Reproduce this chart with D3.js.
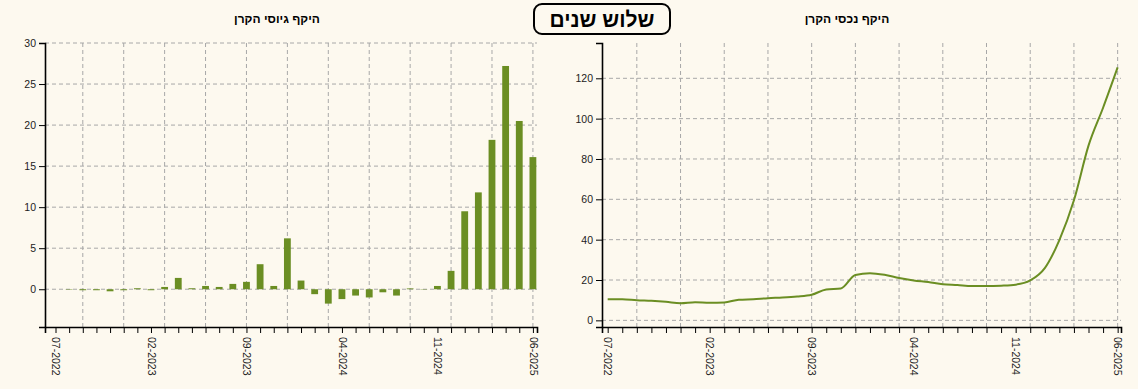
<!DOCTYPE html>
<html lang="he">
<head>
<meta charset="utf-8">
<script src="https://cdn.jsdelivr.net/npm/d3@7"></script>
<style>
  body { margin: 0; background: #fdf9ef; }
  svg { display: block; font-family: "Liberation Sans", Arial, sans-serif; }
  .grid line { stroke: #a8a8a8; stroke-dasharray: 4,3; }
  .axis path, .axis line { stroke: #000; }
  .axis text { fill: #222; font-size: 10.5px; }
</style>
</head>
<body>
<svg id="chart" width="1138" height="389"></svg>
<script>
// Months shown on both x axes
const months = [
  "07-2022","08-2022","09-2022","10-2022","11-2022","12-2022",
  "01-2023","02-2023","03-2023","04-2023","05-2023","06-2023",
  "07-2023","08-2023","09-2023","10-2023","11-2023","12-2023",
  "01-2024","02-2024","03-2024","04-2024","05-2024","06-2024",
  "07-2024","08-2024","09-2024","10-2024","11-2024","12-2024",
  "01-2025","02-2025","03-2025","04-2025","05-2025","06-2025"
];

// Monthly fund raising (left chart)
const raised = [
  0, -0.05, -0.12, -0.12, -0.25, -0.12, 0.12, -0.12, 0.28, 1.38, 0.12, 0.4,
  0.28, 0.65, 0.9, 3.05, 0.4, 6.2, 1.06, -0.6, -1.75, -1.2, -0.77, -1.0,
  -0.37, -0.77, 0.1, -0.04, 0.4, 2.24, 9.5, 11.8, 18.2, 27.2, 20.5, 16.1
];

// Fund assets (right chart)
const assets = [
  10.5, 10.5, 10.0, 9.7, 9.2, 8.5, 9.0, 8.7, 8.9, 10.2, 10.5, 11.0,
  11.3, 11.8, 12.7, 15.3, 15.8, 22.5, 23.4, 22.6, 21.0, 19.8, 19.0, 17.9,
  17.5, 17.0, 17.0, 17.2, 17.7, 19.8, 25.9, 39.8, 59.5, 86.6, 105.4, 125.4
];

const raisedTicks = [0, 5, 10, 15, 20, 25, 30];
const assetTicks  = [0, 20, 40, 60, 80, 100, 120];

const mainTitle   = "שלוש שנים";
const leftTitle   = "היקף גיוסי הקרן";
const rightTitle  = "היקף נכסי הקרן";

const GREEN = "#6b8e23";
const svg = d3.select("#chart");

const idx = d3.range(months.length);
const gridMonths = d3.range(2, months.length, 3);   // vertical grid every 3 months back from the end
const labelMonths = d3.range(0, months.length, 7);   // labelled ticks

// Shared frame for one panel
function panel(left, right, xPad, yDomain, yTicks) {
  const top = 43, bottom = 327;
  const x = d3.scaleLinear()
    .domain([-xPad[0], months.length - 1 + xPad[1]])
    .range([left, right]);
  const y = d3.scaleLinear().domain(yDomain).range([bottom, top]);

  // grid
  const grid = svg.append("g").attr("class", "grid");
  grid.selectAll(".h").data(yTicks).join("line")
    .attr("x1", left).attr("x2", right)
    .attr("y1", d => y(d)).attr("y2", d => y(d));
  grid.selectAll(".v").data(gridMonths).join("line")
    .attr("x1", d => x(d)).attr("x2", d => x(d))
    .attr("y1", top).attr("y2", bottom);

  // x axis
  svg.append("g").attr("class", "axis")
    .attr("transform", `translate(0,${bottom})`)
    .call(d3.axisBottom(x).tickValues(idx)
      .tickFormat(i => labelMonths.includes(i) ? months[i] : ""))
    .call(ax => ax.select(".domain").attr("stroke-width", 1.6))
    .selectAll("text")
      .attr("transform", "rotate(90)")
      .attr("x", 10).attr("y", 0)
      .attr("dy", "0.35em")
      .attr("text-anchor", "start");

  // y axis
  svg.append("g").attr("class", "axis")
    .attr("transform", `translate(${left},0)`)
    .call(d3.axisLeft(y).tickValues(yTicks))
    .call(ax => ax.select(".domain").attr("stroke-width", 1.6));

  return { x, y };
}

// ── Left: fund raising bars ─────────────────────────────
const L = panel(45, 537, [0.77, 0.3], [-4.6, 30], raisedTicks);
const bw = (L.x(1) - L.x(0)) * 0.5;
svg.append("g").selectAll("rect").data(raised).join("rect")
  .attr("x", (d, i) => L.x(i) - bw / 2)
  .attr("y", d => L.y(Math.max(0, d)))
  .attr("width", bw)
  .attr("height", d => Math.abs(L.y(d) - L.y(0)))
  .attr("fill", GREEN);

// ── Right: fund assets line ─────────────────────────────
const R = panel(602, 1121, [0.39, 0.23], [-3.3, 137.5], assetTicks);
svg.append("path")
  .datum(assets)
  .attr("fill", "none")
  .attr("stroke", GREEN)
  .attr("stroke-width", 2)
  .attr("d", d3.line()
    .x((d, i) => R.x(i))
    .y(d => R.y(d))
    .curve(d3.curveMonotoneX));

// ── Titles ──────────────────────────────────────────────
svg.append("text")
  .attr("x", 277).attr("y", 23)
  .attr("text-anchor", "middle")
  .attr("font-size", 12).attr("font-weight", "bold")
  .text(leftTitle);

svg.append("text")
  .attr("x", 847).attr("y", 23)
  .attr("text-anchor", "middle")
  .attr("font-size", 12).attr("font-weight", "bold")
  .text(rightTitle);

svg.append("rect")
  .attr("x", 534).attr("y", 4)
  .attr("width", 136).attr("height", 30)
  .attr("rx", 8)
  .attr("fill", "#fdf9ef")
  .attr("stroke", "#000").attr("stroke-width", 2);

svg.append("text")
  .attr("x", 602).attr("y", 27)
  .attr("text-anchor", "middle")
  .attr("font-size", 21).attr("font-weight", "bold")
  .text(mainTitle);
</script>
</body>
</html>
